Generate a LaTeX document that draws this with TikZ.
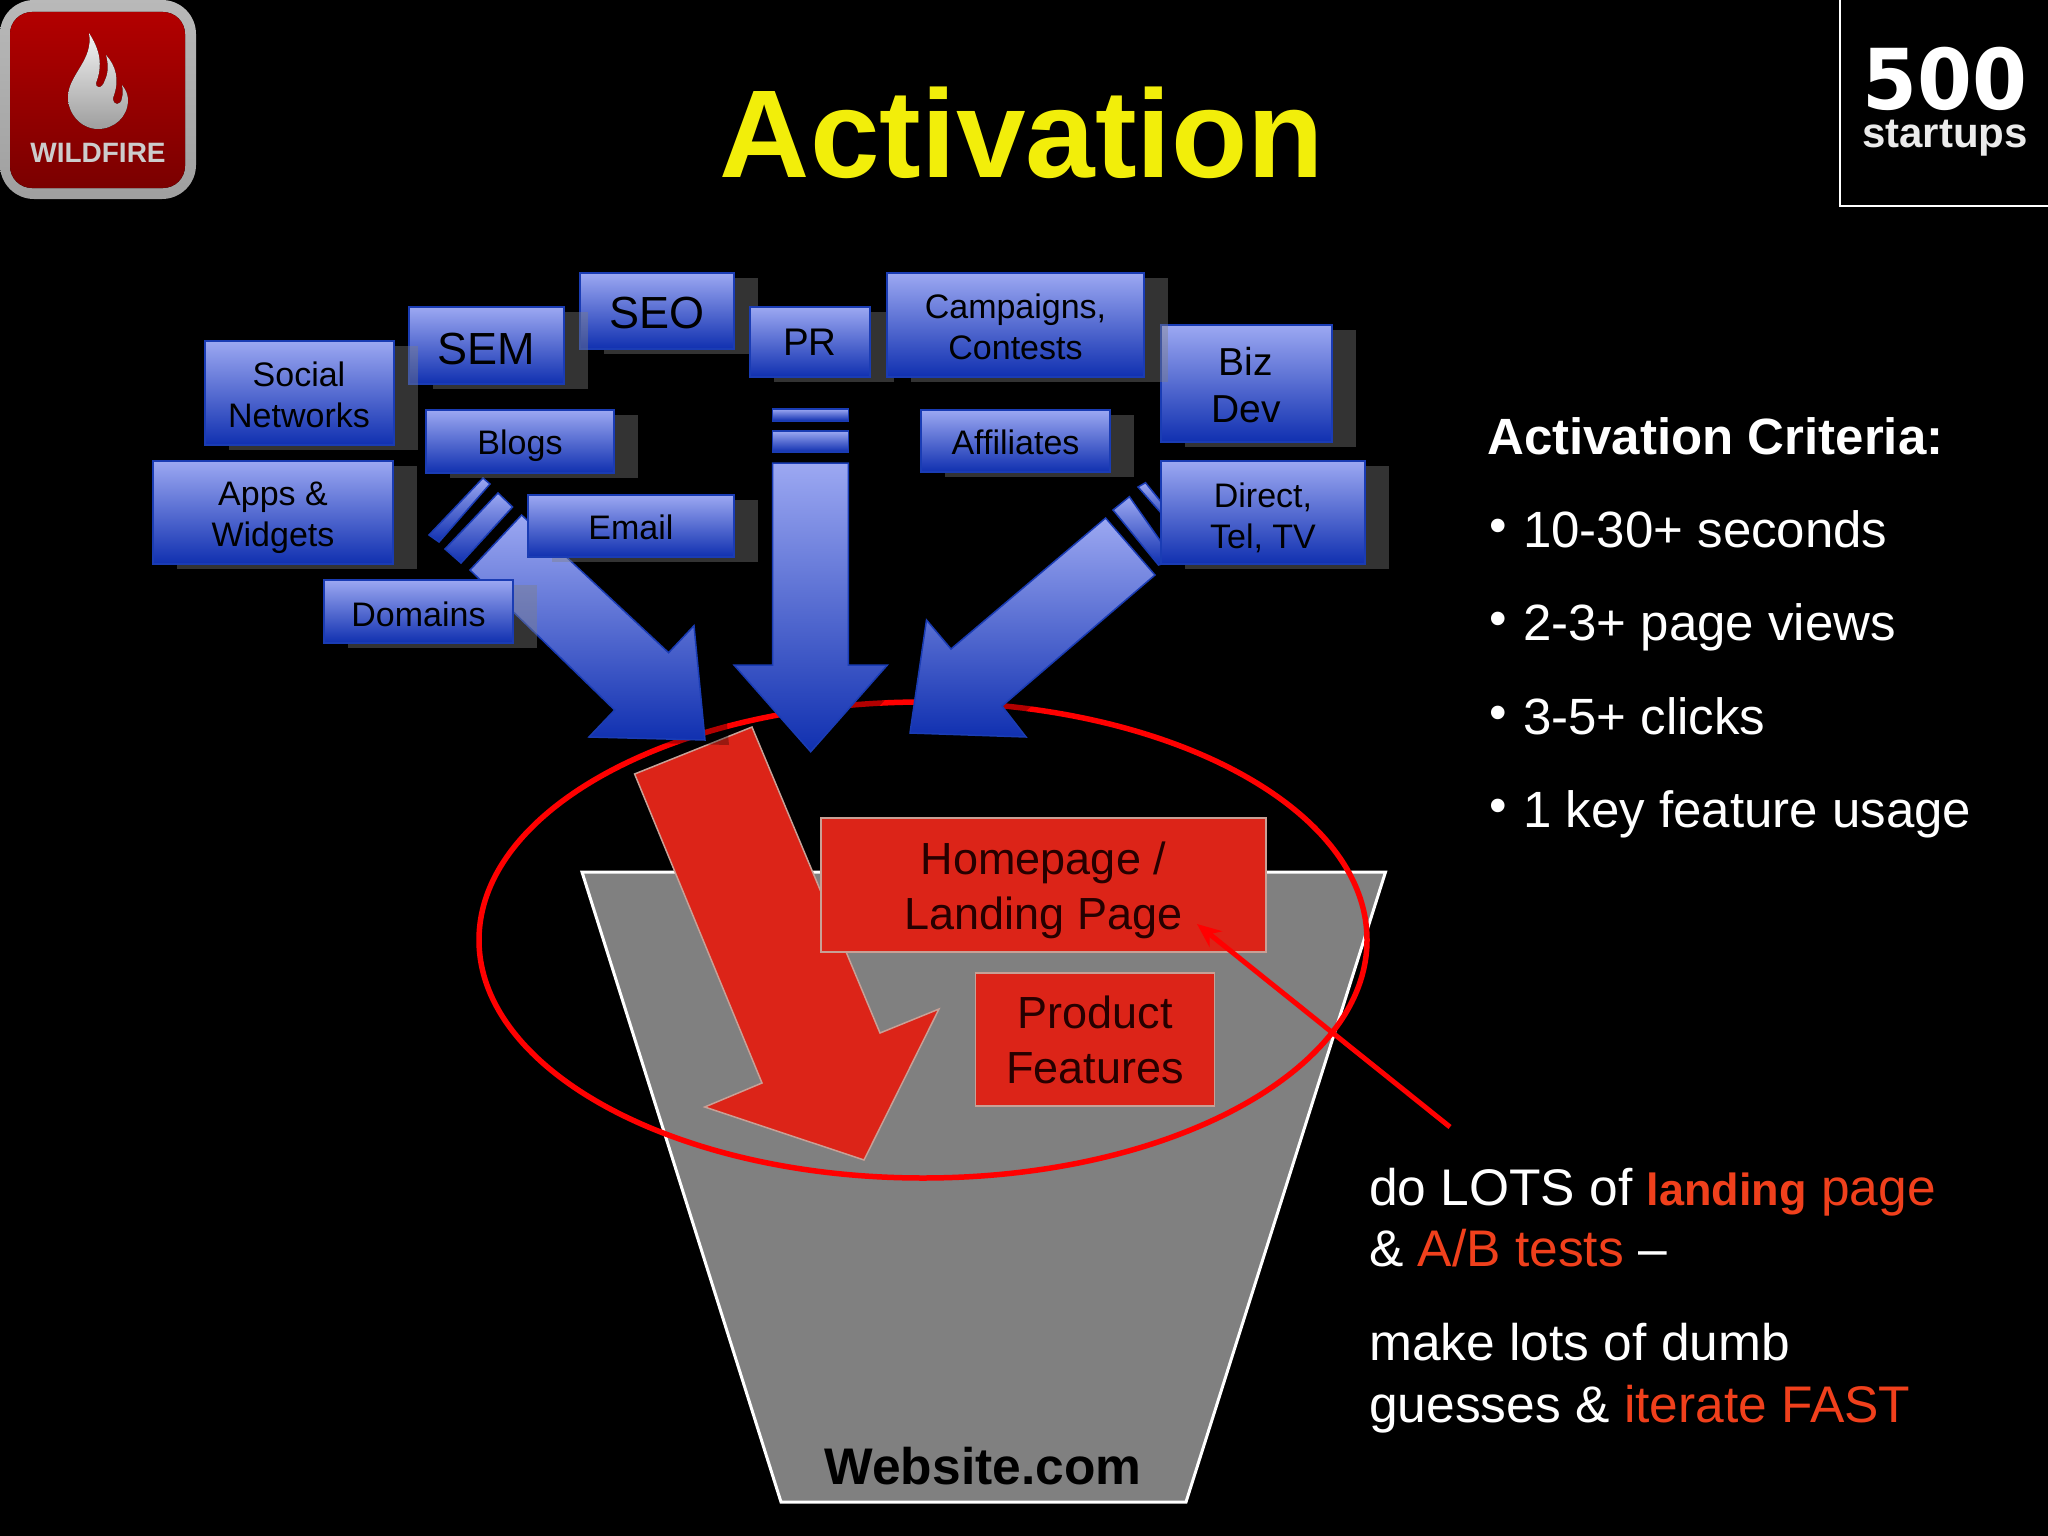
\documentclass[tikz,border=0pt]{standalone}
\usepackage{fontspec}
\setmainfont{Liberation Sans}
\usetikzlibrary{arrows.meta,shadows}

\definecolor{bluetop}{HTML}{9CA8F2}
\definecolor{bluebot}{HTML}{1030B0}
\definecolor{blueedge}{HTML}{1A3CB4}
\definecolor{slidered}{HTML}{DC2418}
\definecolor{redge}{HTML}{C8A096}
\definecolor{titleyellow}{HTML}{F2EE0A}
\definecolor{hotorange}{HTML}{F0401C}
\definecolor{funnelgray}{HTML}{808080}

\tikzset{
  bluebox/.style={draw=blueedge, line width=2pt, top color=bluetop, bottom color=bluebot,
    inner sep=0pt, outer sep=0pt, align=center, text=black,
    general shadow={fill=funnelgray, fill opacity=.4, shadow xshift=24pt, shadow yshift=-5pt}},
  boxsize/.style 2 args={minimum width=#1pt, minimum height=#2pt},
  redbox/.style={draw=redge, line width=1.5pt, fill=slidered, inner sep=0pt, align=center,
    text=black!85!red, font=\fontsize{45}{55}\selectfont},
  smalltext/.style={font=\fontsize{34}{41}\selectfont},
  blockarrow/.style={draw=blueedge, line width=1.5pt, top color=bluetop, bottom color=bluebot},
  arrowshade/.style={fill=black, fill opacity=.3},
  sidetext/.style={anchor=base west, inner sep=0pt, text=white, font=\fontsize{51}{60}\selectfont},
  notetext/.style={anchor=base west, inner sep=0pt, text=white, font=\fontsize{51.5}{61}\selectfont}
}

% block arrows, also used for their shades
\newcommand{\leftblock}{(521.6,515) -- (470,570) -- (614.7,710) -- (589,737) -- (705,740) -- (694,625.7) -- (668.6,652.7) -- cycle}
\newcommand{\midblock}{(772.5,463) -- (772.5,665) -- (734,665) -- (810.7,751.7) -- (887.4,665) -- (848.4,665) -- (848.4,463) -- cycle}
\newcommand{\rightblock}{(1105.6,518) -- (951,649) -- (926.5,620) -- (910,733) -- (1026,737) -- (1002,706) -- (1155,575) -- cycle}
\newcommand{\critdot}{\raisebox{5pt}{\fontsize{50}{50}\selectfont •}\hspace{16.5pt}}
% taller first line, pushes the text down in its box
\newcommand{\lowered}[1]{\rule{0pt}{#1pt}}

\begin{document}
\begin{tikzpicture}[x=1pt,y=-1pt]
  \useasboundingbox (0,0) rectangle (2048,1536);
  \fill[black] (0,0) rectangle (2048,1536);

  % wildfire logo
  \fill[top color=gray!55, bottom color=gray!75, rounded corners=34pt] (0,0) rectangle (196,199);
  \fill[top color=red!70!black, bottom color=red!48!black, rounded corners=22pt] (10,12) rectangle (185,188);
  \fill[top color=white!95!black, bottom color=white!62!black]
    (89,33) .. controls (100,50) and (103,65) .. (96,83)
    .. controls (95,88) and (102,90) .. (105,80)
    .. controls (109,72) and (108,62) .. (106,55)
    .. controls (116,66) and (120,80) .. (113,98)
    .. controls (113,106) and (121,106) .. (122,98)
    .. controls (123,94) and (123,90) .. (122,85)
    .. controls (126,90) and (128,95) .. (128,100)
    .. controls (128,117) and (114,129) .. (98,129)
    .. controls (82,129) and (68,115) .. (68,97)
    .. controls (68,75) and (94,60) .. cycle;
  \node[inner sep=0pt, text=white!80!black, font=\fontsize{28}{30}\selectfont\bfseries] (wildfire) at (98,153) {WILDFIRE};

  % startups logo
  \draw[white, line width=2pt] (1840,-2) -- (1840,206) -- (2050,206);
  \node[anchor=base, inner sep=0pt, text=white, xscale=.94, font=\fontsize{84}{90}\selectfont\bfseries\fontspec{DejaVu Sans}] (fivehundred) at (1945,110) {500};
  \node[anchor=base, inner sep=0pt, text=white!92!black, font=\fontsize{42}{48}\selectfont\bfseries] (startups) at (1945,148) {startups};

  \node[anchor=base, inner sep=0pt, text=titleyellow, font=\fontsize{125}{130}\selectfont\bfseries] (title) at (1022,177) {Activation};

  % funnel and ring
  \draw[fill=funnelgray, draw=white, line width=3pt] (582,872) -- (1385.5,872) -- (1186,1502) -- (781,1502) -- cycle;
  \node[anchor=base, inner sep=0pt, text=black, font=\fontsize{51.5}{60}\selectfont\bfseries] (website) at (983,1484) {Website.com};
  \draw[red, line width=5.5pt] (923,940) ellipse [x radius=444, y radius=238];

  % red arrow and its boxes
  \draw[fill=slidered, draw=redge, line width=1.5pt] (752,727) -- (634.6,774) -- (762,1083) -- (704.7,1107) -- (864,1160) -- (939,1009) -- (880,1033) -- cycle;
  \node[redbox, boxsize={445}{134}] (homepage) at (1043.5,885) {\lowered{43}Homepage /\\Landing Page};
  \node[redbox, boxsize={239}{133}] (product) at (1095,1039.5) {Product\\Features};

  % shades of the blue arrows
  \path[arrowshade, shift={(24,5)}] \leftblock;
  \path[arrowshade, shift={(24,5)}] \midblock;
  \path[arrowshade, shift={(24,5)}] \rightblock;

  % blue arrows with their stripes
  \draw[blockarrow] \leftblock;
  \draw[blockarrow] (498,493) -- (512.6,507) -- (461,563) -- (445,549) -- cycle;
  \draw[blockarrow] (483,478) -- (490,484) -- (439,542) -- (429,535) -- cycle;
  \draw[blockarrow] \midblock;
  \draw[blockarrow] (772.5,431) rectangle (848.4,452);
  \draw[blockarrow] (772.5,409) rectangle (848.4,421);
  \draw[blockarrow] \rightblock;
  \draw[blockarrow] (1129.4,496.7) -- (1113,510) -- (1158.5,565) -- (1173.6,560) -- cycle;
  \draw[blockarrow] (1145.5,482.7) -- (1138,487) -- (1173.6,527) -- (1178,523) -- cycle;

  % blue boxes, back to front
  \node[bluebox, boxsize={154}{76}, font=\fontsize{45}{50}\selectfont] (seo) at (657,311) {\lowered{36}SEO};
  \node[bluebox, boxsize={155}{77}, font=\fontsize{45}{50}\selectfont] (sem) at (486.5,345.5) {\lowered{38}SEM};
  \node[bluebox, boxsize={189}{104}, smalltext] (social) at (299,393) {\lowered{28}Social\\Networks};
  \node[bluebox, boxsize={188}{63}, smalltext] (blogs) at (520,441.5) {\lowered{33}Blogs};
  \node[bluebox, boxsize={240}{103}, smalltext] (apps) at (273,512.5) {\lowered{35}Apps \&\\Widgets};
  \node[bluebox, boxsize={206}{62}, smalltext] (email) at (631,526) {\lowered{28}Email};
  \node[bluebox, boxsize={189}{63}, smalltext] (domains) at (418.5,611.5) {\lowered{30}Domains};
  \node[bluebox, boxsize={120}{70}, font=\fontsize{38.5}{44}\selectfont] (pr) at (810,342) {PR};
  \node[bluebox, boxsize={171}{117}, font=\fontsize{39}{47}\selectfont] (biz) at (1246,383.5) {\lowered{31}Biz\\Dev};
  \node[bluebox, boxsize={257}{104}, smalltext] (campaigns) at (1015.5,325) {\lowered{28}Campaigns,\\Contests};
  \node[bluebox, boxsize={189}{62}, smalltext] (affiliates) at (1015.5,441) {\lowered{28}Affiliates};
  \node[bluebox, boxsize={204}{103}, smalltext] (direct) at (1263,512.5) {\lowered{35}Direct,\\Tel, TV};

  % criteria list
  \node[sidetext, font=\fontsize{51}{60}\selectfont\bfseries] (criteria) at (1487,454) {Activation Criteria:};
  \node[sidetext] (seconds) at (1489,547) {\critdot 10-30+ seconds};
  \node[sidetext] (views) at (1489,640) {\critdot 2-3+ page views};
  \node[sidetext] (clicks) at (1489,734) {\critdot 3-5+ clicks};
  \node[sidetext] (usage) at (1489,827) {\critdot 1 key feature usage};

  % note and its pointer
  \node[notetext] (noteone) at (1369,1205) {do LOTS of \textcolor{hotorange}{{\fontsize{45}{61}\selectfont\textbf{landing}} page}};
  \node[notetext] (notetwo) at (1369,1266) {\& \textcolor{hotorange}{A/B tests} –};
  \node[notetext] (notethree) at (1369,1360) {make lots of dumb};
  \node[notetext] (notefour) at (1369,1422) {guesses \& \textcolor{hotorange}{iterate FAST}};
  \coordinate (pointerstart) at (1450,1127);
  \coordinate (pointertip) at (1197,924);
  \draw[red, line width=5pt, -{Stealth[length=24pt,width=20pt]}] (pointerstart) -- (pointertip);
\end{tikzpicture}
\end{document}
